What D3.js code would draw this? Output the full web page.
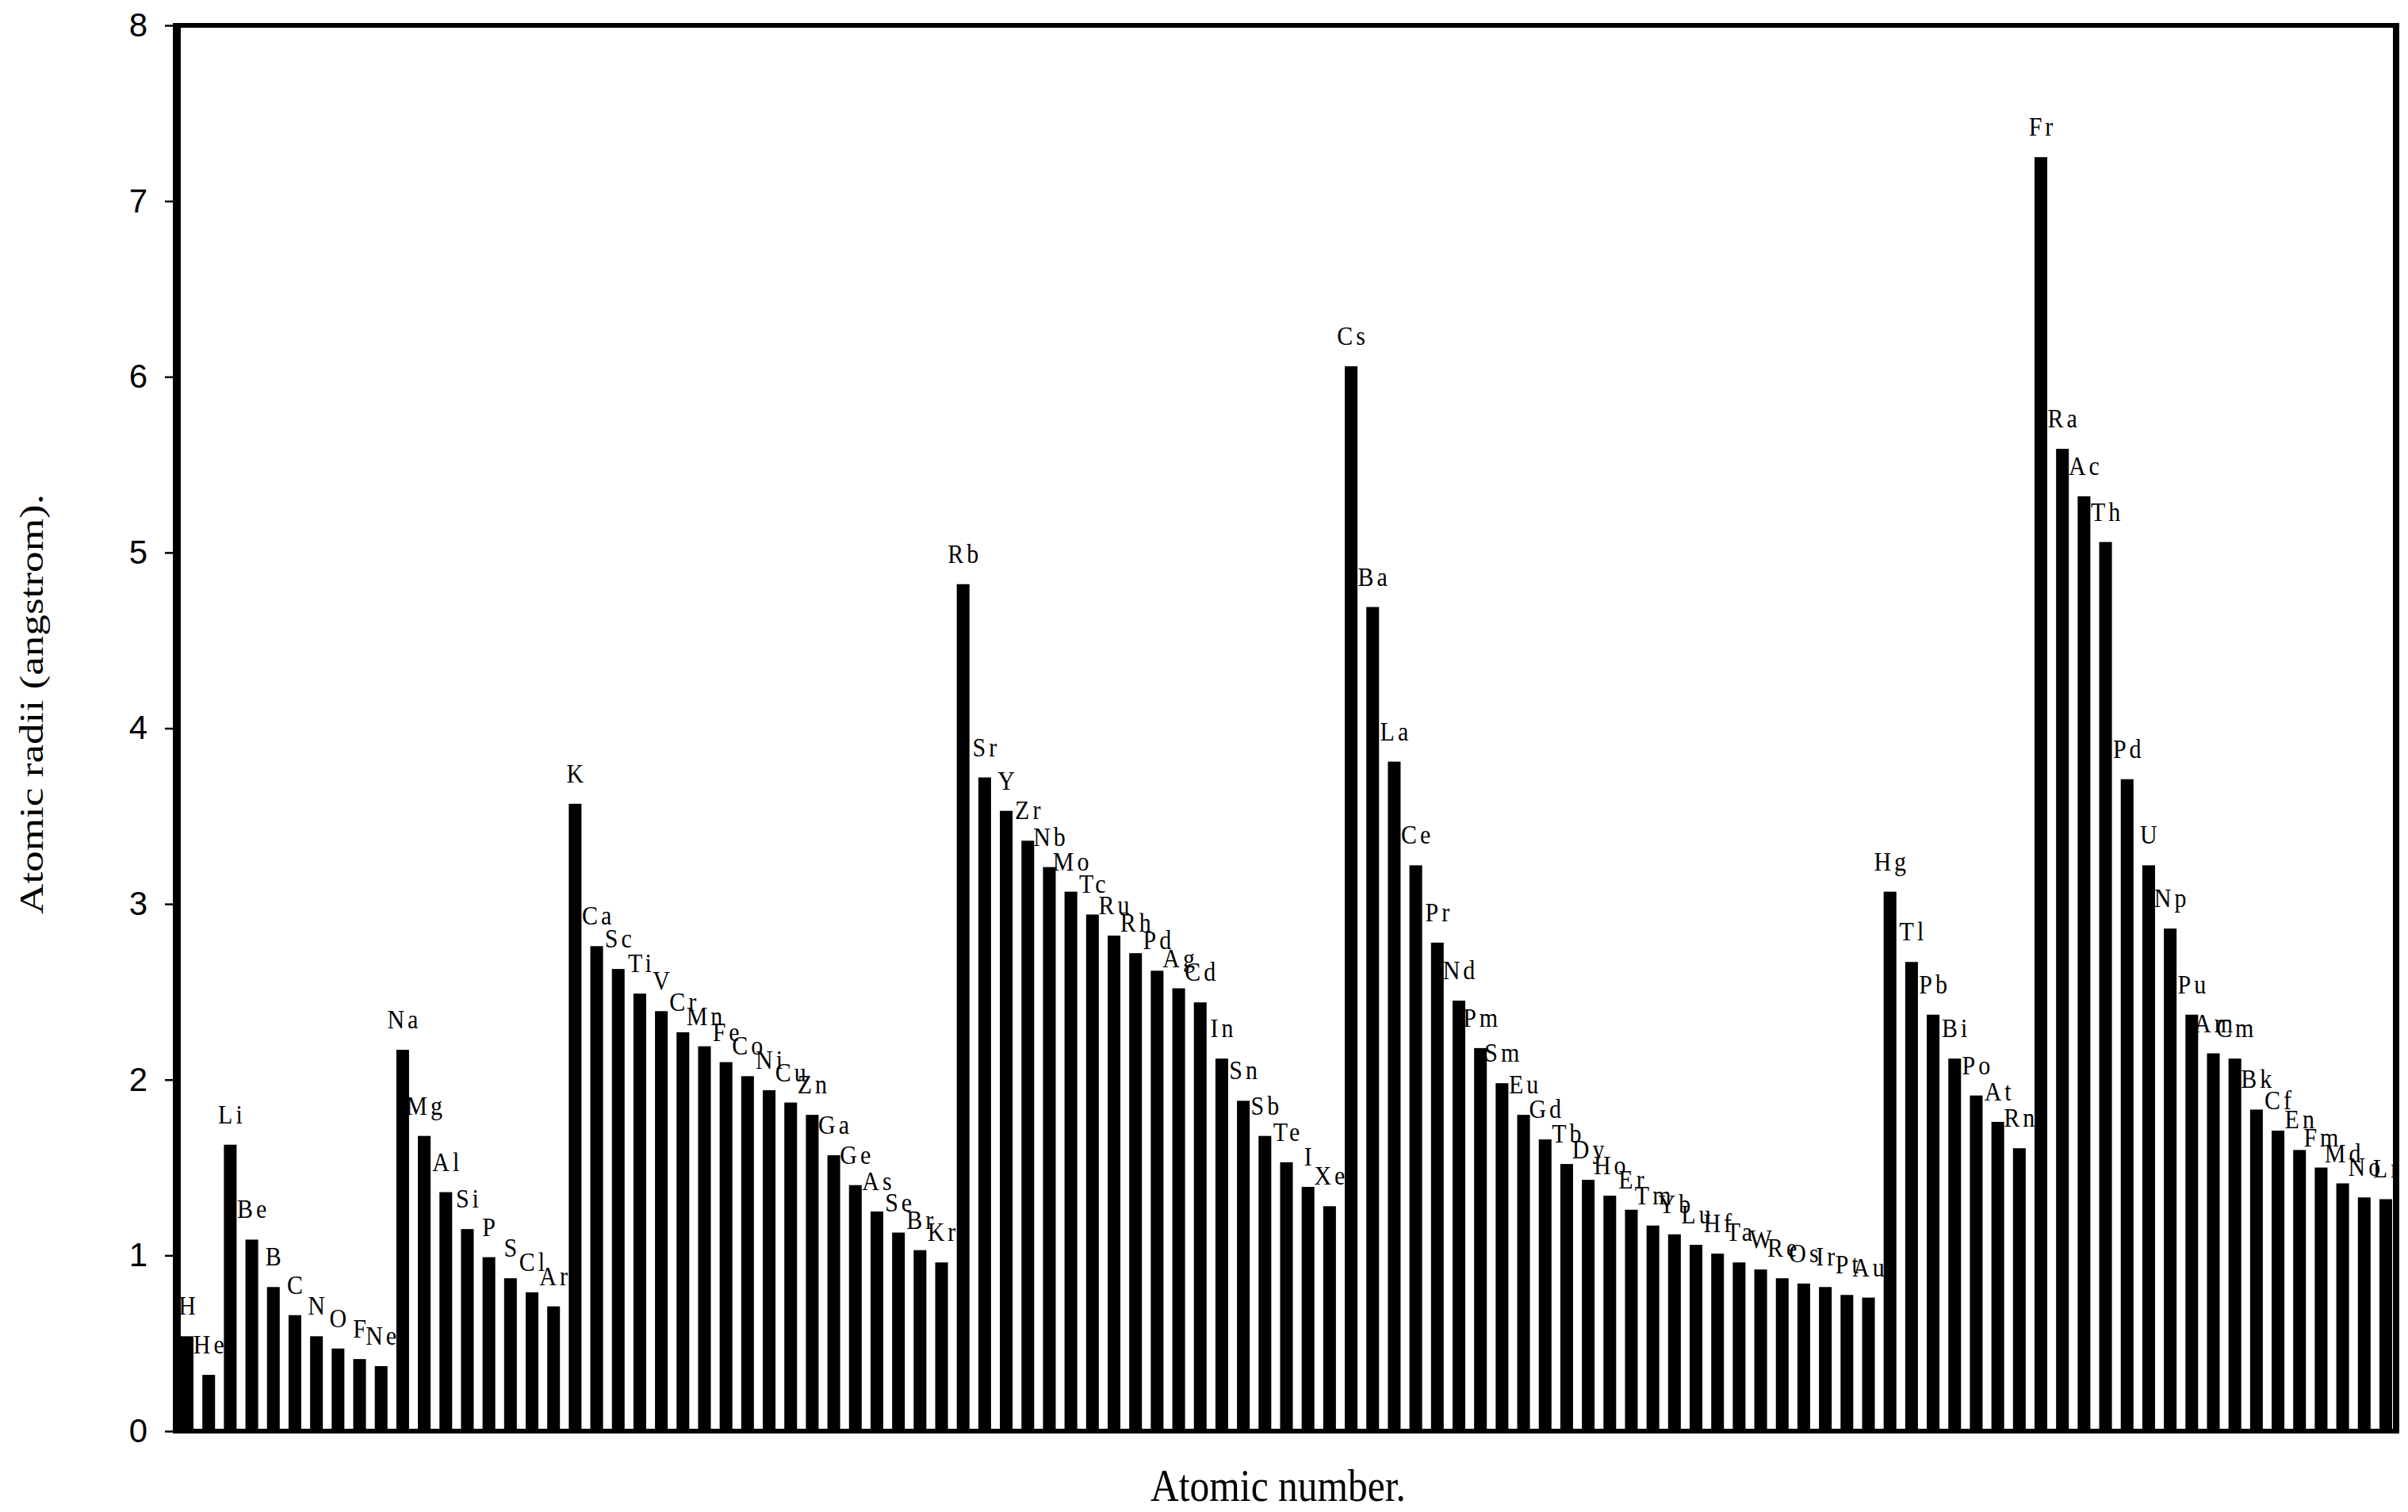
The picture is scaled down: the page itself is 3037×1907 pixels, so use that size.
<!DOCTYPE html>
<html>
<head>
<meta charset="utf-8">
<script src="https://cdn.jsdelivr.net/npm/d3@7"></script>
<style>
  html, body { margin: 0; padding: 0; background: #fff; }
  svg { display: block; }
</style>
</head>
<body>
<script>
// ---- data ----
const labels = ["H","He","Li","Be","B","C","N","O","F","Ne",
  "Na","Mg","Al","Si","P","S","Cl","Ar",
  "K","Ca","Sc","Ti","V","Cr","Mn","Fe","Co","Ni","Cu","Zn","Ga","Ge","As","Se","Br","Kr",
  "Rb","Sr","Y","Zr","Nb","Mo","Tc","Ru","Rh","Pd","Ag","Cd","In","Sn","Sb","Te","I","Xe",
  "Cs","Ba","La","Ce","Pr","Nd","Pm","Sm","Eu","Gd","Tb","Dy","Ho","Er","Tm","Yb","Lu",
  "Hf","Ta","W","Re","Os","Ir","Pt","Au","Hg","Tl","Pb","Bi","Po","At","Rn",
  "Fr","Ra","Ac","Th","Pd","U","Np","Pu","Am","Cm","Bk","Cf","En","Fm","Md","No","Lr"];
const radii = [0.54,0.32,1.63,1.09,0.82,0.66,0.54,0.47,0.41,0.37,
  2.17,1.68,1.36,1.15,0.99,0.87,0.79,0.71,
  3.57,2.76,2.63,2.49,2.39,2.27,2.19,2.10,2.02,1.94,1.87,1.80,1.57,1.40,1.25,1.13,1.03,0.96,
  4.82,3.72,3.53,3.36,3.21,3.07,2.94,2.82,2.72,2.62,2.52,2.44,2.12,1.88,1.68,1.53,1.39,1.28,
  6.06,4.69,3.81,3.22,2.78,2.45,2.18,1.98,1.80,1.66,1.52,1.43,1.34,1.26,1.17,1.12,1.06,
  1.01,0.96,0.92,0.87,0.84,0.82,0.775,0.76,3.07,2.67,2.37,2.12,1.91,1.76,1.61,
  7.25,5.59,5.32,5.06,3.71,3.22,2.86,2.37,2.15,2.12,1.83,1.71,1.60,1.50,1.41,1.33,1.32];
const yTicks = [0,1,2,3,4,5,6,7,8];
const xTitle = "Atomic number.";
const yTitle = "Atomic radii (angstrom).";

// ---- layout ----
const W = 3037, H = 1907;
const svg = d3.select("body").append("svg").attr("width", W).attr("height", H);
svg.append("rect").attr("width", W).attr("height", H).attr("fill", "#fff");

const x = d3.scaleBand().domain(d3.range(labels.length)).range([228, 3017])
  .paddingInner(0.41).paddingOuter(0);
const y = d3.scaleLinear().domain([0, 8]).range([1805, 32]);

// bars
svg.append("g").selectAll("rect").data(radii).join("rect")
  .attr("x", (d, i) => x(i))
  .attr("width", x.bandwidth())
  .attr("y", d => y(d))
  .attr("height", d => y(0) - y(d))
  .attr("fill", "#000");

// bar labels
svg.append("g").selectAll("text").data(radii).join("text")
  .attr("transform", (d, i) => `translate(${x(i) + x.bandwidth() / 2 + 2},${y(d) - 27}) scale(1,1.12)`)
  .attr("text-anchor", "middle")
  .attr("font-family", "'Liberation Serif', 'Times New Roman', serif")
  .attr("font-size", 30)
  .attr("letter-spacing", 4)
  .attr("fill", "#000")
  .text((d, i) => labels[i]);

// y axis
const yAxis = svg.append("g").attr("transform", "translate(218,0)")
  .call(d3.axisLeft(y).tickValues(yTicks).tickSize(10).tickPadding(22).tickFormat(d3.format("d")));
yAxis.select(".domain").remove();
yAxis.selectAll(".tick line").attr("stroke", "#000").attr("stroke-width", 2.5);
yAxis.selectAll(".tick text")
  .attr("font-family", "'Liberation Sans', Arial, sans-serif")
  .attr("font-size", 42)
  .attr("fill", "#000");

// frame
const frame = svg.append("g").attr("fill", "#000");
frame.append("rect").attr("x", 218).attr("y", 29).attr("width", 10).attr("height", 1779);   // left
frame.append("rect").attr("x", 218).attr("y", 29).attr("width", 2808).attr("height", 6);   // top
frame.append("rect").attr("x", 3018).attr("y", 29).attr("width", 8).attr("height", 1779);  // right
frame.append("rect").attr("x", 218).attr("y", 1802).attr("width", 2808).attr("height", 6); // bottom

// axis titles
svg.append("text")
  .attr("transform", "translate(1612,1893) scale(1,1.15)")
  .attr("text-anchor", "middle")
  .attr("font-family", "'Liberation Serif', 'Times New Roman', serif")
  .attr("font-size", 50)
  .attr("textLength", 322)
  .attr("lengthAdjust", "spacingAndGlyphs")
  .attr("fill", "#000")
  .text(xTitle);

svg.append("text")
  .attr("transform", "translate(54,888) rotate(-90)")
  .attr("text-anchor", "middle")
  .attr("font-family", "'Liberation Serif', 'Times New Roman', serif")
  .attr("font-size", 42)
  .attr("textLength", 530)
  .attr("lengthAdjust", "spacingAndGlyphs")
  .attr("fill", "#000")
  .text(yTitle);
</script>
</body>
</html>
